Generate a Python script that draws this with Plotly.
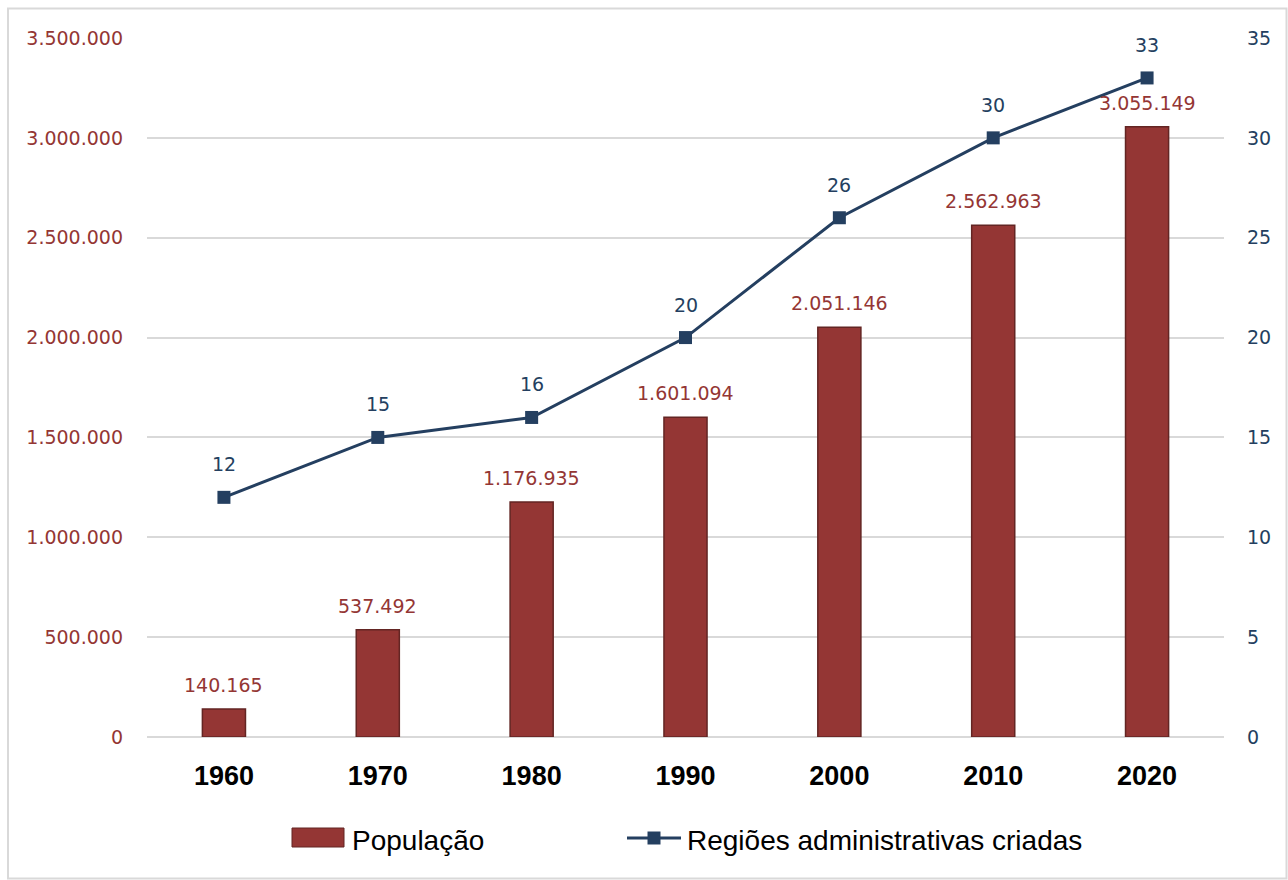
import plotly.graph_objects as go

years = ["1960", "1970", "1980", "1990", "2000", "2010", "2020"]
populacao = [140165, 537492, 1176935, 1601094, 2051146, 2562963, 3055149]
regioes = [12, 15, 16, 20, 26, 30, 33]
left_ticks = [0, 500000, 1000000, 1500000, 2000000, 2500000, 3000000, 3500000]
right_ticks = [0, 5, 10, 15, 20, 25, 30, 35]
legend_names = ["População", "Regiões administrativas criadas"]

def fmt(v):
    return f"{v:,}".replace(",", ".")

RED = "#943634"
NAVY = "#243F60"
NUMFONT = "DejaVu Sans"
TXTFONT = "Liberation Sans"

W, H = 1288, 880
L, R, T, B = 147, 64, 38, 143
pw, ph = W - L - R, H - T - B
def px(x): return (x - L) / pw
def py(y): return (H - B - y) / ph

fig = go.Figure()
fig.add_trace(go.Bar(
    x=years, y=populacao, name=legend_names[0],
    marker=dict(color=RED, line=dict(color="#632523", width=1.5)),
    width=0.28, showlegend=False,
))
fig.add_trace(go.Scatter(
    x=years, y=regioes, name=legend_names[1], yaxis="y2",
    mode="lines+markers",
    line=dict(color=NAVY, width=3),
    marker=dict(symbol="square", size=13, color=NAVY),
    cliponaxis=False, showlegend=False,
))

annotations = []
for i, v in enumerate(populacao):
    annotations.append(dict(x=i, y=v, xref="x", yref="y", text=fmt(v), showarrow=False,
                            yshift=24, font=dict(family=NUMFONT, size=19, color=RED)))
for i, v in enumerate(regioes):
    annotations.append(dict(x=i, y=v, xref="x", yref="y2", text=str(v), showarrow=False,
                            yshift=33, font=dict(family=NUMFONT, size=19, color=NAVY)))

# custom legend
annotations.append(dict(xref="paper", yref="paper", x=px(350), y=py(840), xanchor="left",
                        yanchor="middle", text=legend_names[0], showarrow=False,
                        font=dict(family=TXTFONT, size=28, color="black")))
annotations.append(dict(xref="paper", yref="paper", x=px(685), y=py(840), xanchor="left",
                        yanchor="middle", text=legend_names[1], showarrow=False,
                        font=dict(family=TXTFONT, size=28, color="black")))

shapes = [
    dict(type="rect", xref="paper", yref="paper",
         x0=px(8), x1=px(1286.5), y0=py(878.5), y1=py(8.5),
         line=dict(color="#D9D9D9", width=2), layer="below"),
    dict(type="rect", xref="paper", yref="paper",
         x0=px(292), x1=px(344), y0=py(847), y1=py(828),
         fillcolor=RED, line=dict(color="#632523", width=1)),
    dict(type="line", xref="paper", yref="paper",
         x0=px(627), x1=px(681), y0=py(838), y1=py(838),
         line=dict(color=NAVY, width=3)),
    dict(type="rect", xref="paper", yref="paper",
         x0=px(647.5), x1=px(660.5), y0=py(844.5), y1=py(831.5),
         fillcolor=NAVY, line=dict(color=NAVY, width=0)),
]

fig.update_layout(
    width=W, height=H,
    margin=dict(l=L, r=R, t=T, b=B),
    plot_bgcolor="white", paper_bgcolor="white",
    font=dict(family=TXTFONT, size=18),
    showlegend=False,
    xaxis=dict(
        type="category", range=[-0.5, len(years) - 0.5],
        showgrid=False, showline=False, ticks="",
        tickfont=dict(family=TXTFONT, size=27, color="black", weight="bold"),
        ticklabelstandoff=20,
    ),
    yaxis=dict(
        range=[0, 3500000], tickvals=left_ticks, ticktext=[fmt(v) for v in left_ticks],
        tickfont=dict(family=NUMFONT, size=19, color=RED),
        showgrid=True, gridcolor="#D9D9D9", gridwidth=2, zeroline=True,
        zerolinecolor="#D9D9D9", zerolinewidth=2, showline=False, ticks="",
        ticklabelstandoff=23,
    ),
    yaxis2=dict(
        range=[0, 35], tickvals=right_ticks, overlaying="y", side="right",
        tickfont=dict(family=NUMFONT, size=19, color=NAVY),
        showgrid=False, zeroline=False, showline=False, ticks="",
        ticklabelstandoff=22,
    ),
    annotations=annotations,
    shapes=shapes,
)

fig.write_html("out.html")
